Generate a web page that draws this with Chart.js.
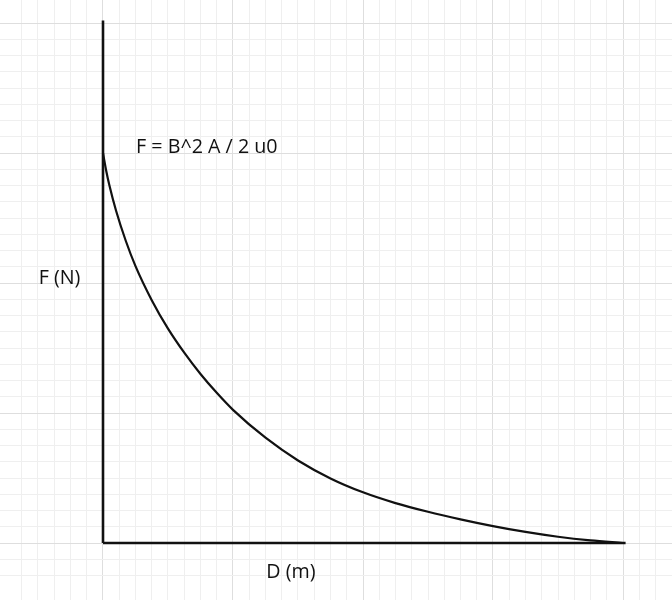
<!DOCTYPE html>
<html>
<head>
<meta charset="utf-8">
<script src="https://cdn.jsdelivr.net/npm/chart.js@4/dist/chart.umd.min.js"></script>
<style>
  html, body { margin: 0; padding: 0; background: #fff; }
  canvas { display: block; background: #fff; }
</style>
</head>
<body>
<canvas id="c" width="672" height="600"></canvas>
<script>
// Distance values (one major grid square = 1 unit)
const distance = [0, 0.025, 0.05, 0.1, 0.175, 0.25, 0.375, 0.5, 0.625, 0.75, 0.875, 1.0, 1.25, 1.5, 1.75, 2.0, 2.25, 2.5, 2.75, 3.0, 3.25, 3.5, 3.75, 4.0];
// Force values
const force = [3.0, 2.862, 2.748, 2.558, 2.325, 2.13, 1.868, 1.649, 1.464, 1.30, 1.155, 1.024, 0.81, 0.635, 0.497, 0.39, 0.307, 0.24, 0.182, 0.13, 0.085, 0.048, 0.02, 0.0];
// Axis line extents
const yAxisLine = [[0, 4.02], [0, 0]];
const xAxisLine = [[0, 0], [4.02, 0]];
// Text labels
const formulaText = "F = B^2 A / 2 u0";
const yTitle = "F (N)";
const xTitle = "D (m)";

const curvePts = distance.map((d, i) => ({ x: d, y: force[i] }));
const toPts = arr => arr.map(p => ({ x: p[0], y: p[1] }));

const labelPlugin = {
  id: 'labels',
  afterDatasetsDraw(chart) {
    const { ctx, scales: { x, y } } = chart;
    ctx.save();
    ctx.fillStyle = '#111';
    ctx.font = '19.7px "Open Sans"';
    ctx.textBaseline = 'alphabetic';
    ctx.textAlign = 'left';
    ctx.fillText(formulaText, x.getPixelForValue(0.254), y.getPixelForValue(3.0));
    ctx.fillText(yTitle, x.getPixelForValue(-0.495), y.getPixelForValue(1.99));
    ctx.textAlign = 'center';
    ctx.fillText(xTitle, x.getPixelForValue(1.446), y.getPixelForValue(-0.27));
    ctx.restore();
  }
};

function gridColor(ctx) {
  const v = ctx.tick && ctx.tick.value;
  if (v === undefined) return 'rgba(0,0,0,0)';
  const r8 = v * 8;
  if (Math.abs(r8 - Math.round(r8)) > 1e-6) return 'rgba(0,0,0,0)';
  if (Math.abs(v - Math.round(v)) < 1e-6) return '#dedede';
  return '#efefef';
}

new Chart(document.getElementById('c'), {
  type: 'scatter',
  data: {
    datasets: [
      { data: curvePts, showLine: true, borderColor: '#111', borderWidth: 2.2, pointRadius: 0, cubicInterpolationMode: 'monotone', fill: false },
      { data: toPts(yAxisLine), showLine: true, borderColor: '#111', borderWidth: 2.6, pointRadius: 0, fill: false },
      { data: toPts(xAxisLine), showLine: true, borderColor: '#111', borderWidth: 2.6, pointRadius: 0, fill: false }
    ]
  },
  options: {
    responsive: false,
    devicePixelRatio: 1,
    animation: false,
    layout: { padding: 0 },
    plugins: { legend: { display: false }, tooltip: { enabled: false }, title: { display: false } },
    scales: {
      x: {
        type: 'linear',
        min: -103 / 130,
        max: (672 - 103) / 130,
        border: { display: false },
        ticks: { display: false, stepSize: 0.125 },
        grid: { drawTicks: false, color: gridColor, lineWidth: 1 }
      },
      y: {
        type: 'linear',
        min: -(600 - 543) / 130,
        max: 543 / 130,
        border: { display: false },
        ticks: { display: false, stepSize: 0.125 },
        grid: { drawTicks: false, color: gridColor, lineWidth: 1 }
      }
    }
  },
  plugins: [labelPlugin]
});
</script>
</body>
</html>
